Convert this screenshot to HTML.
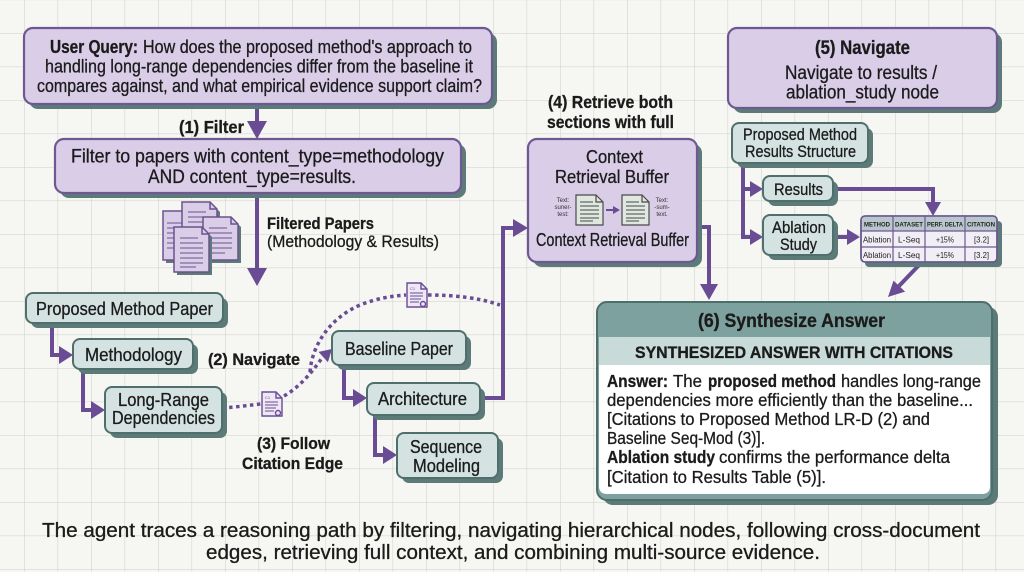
<!DOCTYPE html>
<html><head><meta charset="utf-8"><style>html,body{margin:0;padding:0;background:#f6f6f3;}svg{display:block;}</style></head>
<body>
<svg width="1024" height="572" viewBox="0 0 1024 572" xmlns="http://www.w3.org/2000/svg" font-family="'Liberation Sans', Arial, sans-serif" fill="#1b1b1b">
<defs>
<pattern id="g" width="33.5" height="33.5" patternUnits="userSpaceOnUse" x="24" y="33">
<path d="M0,0 H33.5 M0,0 V33.5" stroke="#d5d5d1" stroke-width="1.3" fill="none"/>
</pattern>
</defs>
<rect width="1024" height="572" fill="#f6f6f3"/>
<rect width="1024" height="572" fill="url(#g)"/>

<!-- ===== connectors (solid) ===== -->
<g stroke="#6a4c94" stroke-width="4" fill="none" stroke-linejoin="miter">
<path d="M257,104 V123"/>
<path d="M257,193 V270"/>
<path d="M52,323 V355 H61"/>
<path d="M83,369 V410 H93"/>
<path d="M344,365 V398 H355"/>
<path d="M375,415 V455 H385"/>
<path d="M480,398 H503 V228 H515"/>
<path d="M697,227 H709 V285"/>
<path d="M743,163 V237 H751"/>
<path d="M743,189 H751"/>
<path d="M833,189 H933 V203"/>
<path d="M833,237 H848"/>
<path d="M922,262 L899,286"/>
</g>
<g fill="#6a4c94">
<polygon points="247,121 267,121 257,139"/>
<polygon points="247,268 267,268 257,286"/>
<polygon points="59,346 59,364 73,355"/>
<polygon points="91,401 91,419 105,410"/>
<polygon points="353,389 353,407 367,398"/>
<polygon points="383,446 383,464 397,455"/>
<polygon points="513,219 513,237 528,228"/>
<polygon points="700,284 718,284 709,300"/>
<polygon points="750,181 750,197 763,189"/>
<polygon points="750,229 750,245 763,237"/>
<polygon points="925,202 941,202 933,216"/>
<polygon points="847,229 847,245 860,237"/>
<polygon points="905.1,291.6 893.5,280.6 888,297"/>
<polygon points="327.9,362.3 318.5,351.9 332,349"/>
</g>

<!-- ===== dotted citation edges ===== -->
<g stroke="#6a4c94" stroke-width="3.5" fill="none" stroke-dasharray="3.5 3.5">
<path d="M222,408 C238,407 250,405 261,404"/>
<path d="M284,396 C298,388 310,375 322,358"/>
<path d="M310,372 C312,345 330,318 360,305 C378,298 392,296 406,295"/>
<path d="M428,295 C455,295 480,298 500,305"/>
</g>

<!-- citation doc icons -->
<g stroke="#6a4c94" stroke-width="1.4">
<g transform="translate(262,392)">
<path d="M0,0 H14 L20,6 V24 H0 Z" fill="#eee8f4"/>
<path d="M14,0 V6 H20" fill="none"/>
<path d="M3,10 H16 M3,13 H16 M3,16 H14 M3,19 H12" fill="none" stroke-width="1"/>
<circle cx="16" cy="21" r="2.5" fill="#eee8f4"/>
</g>
<g transform="translate(407,283)">
<path d="M0,0 H14 L20,6 V24 H0 Z" fill="#eee8f4"/>
<path d="M14,0 V6 H20" fill="none"/>
<path d="M3,10 H16 M3,13 H16 M3,16 H14 M3,19 H12" fill="none" stroke-width="1"/>
<circle cx="16" cy="21" r="2.5" fill="#eee8f4"/>
</g>
</g>
<text x="265" y="399" font-size="4" stroke="none" fill="#6a4c94">C1</text>
<text x="410" y="290" font-size="4" stroke="none" fill="#6a4c94">C1</text>

<!-- ===== lavender boxes ===== -->
<g>
<rect x="29" y="33" width="468" height="76" rx="9" fill="#5c7b78"/>
<rect x="24" y="28" width="468" height="76" rx="9" fill="#d9cde7" stroke="#6e5892" stroke-width="2.2"/>
<rect x="60" y="144" width="406" height="54" rx="9" fill="#5c7b78"/>
<rect x="55" y="139" width="406" height="54" rx="9" fill="#d9cde7" stroke="#6e5892" stroke-width="2.2"/>
<rect x="533" y="144" width="169" height="123" rx="9" fill="#5c7b78"/>
<rect x="528" y="139" width="169" height="123" rx="9" fill="#d9cde7" stroke="#6e5892" stroke-width="2.2"/>
<rect x="733" y="33" width="269" height="80" rx="9" fill="#5c7b78"/>
<rect x="728" y="28" width="269" height="80" rx="9" fill="#d9cde7" stroke="#6e5892" stroke-width="2.2"/>
</g>

<!-- ===== teal nodes ===== -->
<g stroke="#4f6f6c" stroke-width="2">
<rect x="31" y="298" width="197" height="30" rx="7" fill="#5c7b78" stroke="none"/>
<rect x="26" y="293" width="197" height="30" rx="7" fill="#d4e3e1"/>
<rect x="78" y="344" width="120" height="30" rx="7" fill="#5c7b78" stroke="none"/>
<rect x="73" y="339" width="120" height="30" rx="7" fill="#d4e3e1"/>
<rect x="110" y="392" width="117" height="46" rx="7" fill="#5c7b78" stroke="none"/>
<rect x="105" y="387" width="117" height="46" rx="7" fill="#d4e3e1"/>
<rect x="337" y="336" width="134" height="34" rx="7" fill="#5c7b78" stroke="none"/>
<rect x="332" y="331" width="134" height="34" rx="7" fill="#d4e3e1"/>
<rect x="372" y="388" width="113" height="32" rx="7" fill="#5c7b78" stroke="none"/>
<rect x="367" y="383" width="113" height="32" rx="7" fill="#d4e3e1"/>
<rect x="402" y="438" width="101" height="45" rx="7" fill="#5c7b78" stroke="none"/>
<rect x="397" y="433" width="101" height="45" rx="7" fill="#d4e3e1"/>
<rect x="737" y="128" width="136" height="40" rx="7" fill="#5c7b78" stroke="none"/>
<rect x="732" y="123" width="136" height="40" rx="7" fill="#d4e3e1"/>
<rect x="768" y="181" width="70" height="25" rx="7" fill="#5c7b78" stroke="none"/>
<rect x="763" y="176" width="70" height="25" rx="7" fill="#d4e3e1"/>
<rect x="768" y="220" width="70" height="40" rx="7" fill="#5c7b78" stroke="none"/>
<rect x="763" y="215" width="70" height="40" rx="7" fill="#d4e3e1"/>
</g>

<!-- ===== table ===== -->
<rect x="865" y="221" width="137" height="46" rx="4" fill="#5c7b78"/>
<rect x="861" y="216" width="136" height="46" rx="4" fill="#f1eef5" stroke="#6b5a8e" stroke-width="1.6"/>
<path d="M862,217 H996 V231 H862 Z" fill="#b9c6cd"/>
<g stroke="#6b5a8e" stroke-width="1.2">
<path d="M861,231 H997 M861,247 H997 M893,216 V262 M925,216 V262 M965,216 V262"/>
</g>
<rect x="861" y="216" width="136" height="46" rx="4" fill="none" stroke="#6b5a8e" stroke-width="1.6"/>
<g font-size="6.5" font-weight="bold" fill="#222">
<text x="864" y="226.5" textLength="26" lengthAdjust="spacingAndGlyphs">METHOD</text>
<text x="895" y="226.5" textLength="28" lengthAdjust="spacingAndGlyphs">DATASET</text>
<text x="927" y="226.5" textLength="36" lengthAdjust="spacingAndGlyphs">PERF. DELTA</text>
<text x="967" y="226.5" textLength="28" lengthAdjust="spacingAndGlyphs">CITATION</text>
</g>
<g font-size="8.5" fill="#222">
<text x="863" y="242.5" textLength="28" lengthAdjust="spacingAndGlyphs">Ablation</text><text x="898" y="242.5" textLength="22" lengthAdjust="spacingAndGlyphs">L-Seq</text><text x="936" y="242.5" textLength="18" lengthAdjust="spacingAndGlyphs">+15%</text><text x="974" y="242.5" textLength="15" lengthAdjust="spacingAndGlyphs">[3.2]</text>
<text x="863" y="258" textLength="28" lengthAdjust="spacingAndGlyphs">Ablation</text><text x="898" y="258" textLength="22" lengthAdjust="spacingAndGlyphs">L-Seq</text><text x="936" y="258" textLength="18" lengthAdjust="spacingAndGlyphs">+15%</text><text x="974" y="258" textLength="15" lengthAdjust="spacingAndGlyphs">[3.2]</text>
</g>

<!-- ===== synthesize box ===== -->
<rect x="603" y="307" width="395" height="198" rx="10" fill="#5c7b78"/>
<rect x="597" y="302" width="395" height="198" rx="10" fill="#7ca19e" stroke="#4e6e6b" stroke-width="2"/>
<rect x="599" y="337" width="391" height="28" fill="#c8dbd9"/>
<path d="M599,365 H990 V486 Q990,494 982,494 H607 Q599,494 599,486 Z" fill="#ffffff"/>

<!-- ===== papers cluster ===== -->
<g stroke="#6b528e" stroke-width="1.5">
<g transform="translate(163,211)">
<path d="M3,3 H26 L32,9 V52 H3 Z" fill="#5c7b78" stroke="none"/>
<path d="M0,0 H23 L29,6 V49 H0 Z" fill="#d9cde8"/>
<path d="M4,12 H20 M4,17 H20 M4,22 H20 M4,27 H20 M4,32 H20 M4,37 H18" fill="none" stroke-width="0.9"/>
</g>
<g transform="translate(182,202)">
<path d="M3,3 H31 L38,10 V41 H3 Z" fill="#5c7b78" stroke="none"/>
<path d="M0,0 H28 L35,7 V38 H0 Z" fill="#d9cde8"/>
<path d="M28,0 V7 H35" fill="none"/>
<path d="M6,10 H24 M6,15 H28 M6,20 H28 M6,25 H28 M6,30 H22" fill="none" stroke-width="0.9"/>
</g>
<g transform="translate(203,217)">
<path d="M3,3 H31 L38,10 V46 H3 Z" fill="#5c7b78" stroke="none"/>
<path d="M0,0 H28 L35,7 V43 H0 Z" fill="#d9cde8"/>
<path d="M28,0 V7 H35" fill="none"/>
<path d="M6,11 H24 M6,16 H29 M6,21 H29 M6,26 H29 M6,31 H29 M6,36 H22" fill="none" stroke-width="0.9"/>
</g>
<g transform="translate(174,227)">
<path d="M3,3 H31 L38,10 V48 H3 Z" fill="#5c7b78" stroke="none"/>
<path d="M0,0 H28 L35,7 V45 H0 Z" fill="#d9cde8"/>
<path d="M28,0 V7 H35" fill="none"/>
<path d="M6,11 H24 M6,16 H29 M6,21 H29 M6,26 H29 M6,31 H29 M6,36 H29 M6,40 H22" fill="none" stroke-width="0.9"/>
</g>
</g>

<!-- ===== context buffer mini icons ===== -->
<g stroke="#4a4a4a" stroke-width="1.2">
<g transform="translate(576,195)">
<path d="M0,0 H20 L27,7 V30 H0 Z" fill="#dfe7e0"/>
<path d="M20,0 V7 H27" fill="none"/>
<path d="M4,7 H17 M4,11 H23 M4,15 H23 M4,19 H23 M4,23 H23 M4,26 H17" fill="none" stroke-width="0.9"/>
</g>
<g transform="translate(622,195)">
<path d="M0,0 H20 L27,7 V30 H0 Z" fill="#dfe7e0"/>
<path d="M20,0 V7 H27" fill="none"/>
<path d="M4,7 H17 M4,11 H23 M4,15 H23 M4,19 H23 M4,23 H23 M4,26 H17" fill="none" stroke-width="0.9"/>
</g>
</g>
<path d="M606,210 H614" stroke="#6a4c94" stroke-width="2"/>
<polygon points="613,206 613,214 620,210" fill="#6a4c94"/>
<g font-size="6" text-anchor="middle" fill="#333">
<text x="563" y="202">Text:</text><text x="563" y="209">suner-</text><text x="563" y="216">test:</text>
<text x="662" y="202">Text:</text><text x="662" y="209">-sum-</text><text x="662" y="216">text.</text>
</g>

<!-- ===== text ===== -->
<g stroke="#1b1b1b" stroke-width="0.3">
<!-- user query -->
<text x="50" y="53" font-size="18.5" font-weight="bold" textLength="88" lengthAdjust="spacingAndGlyphs">User Query:</text>
<text x="143" y="53" font-size="18.5" textLength="329" lengthAdjust="spacingAndGlyphs">How does the proposed method's approach to</text>
<text x="45" y="72.5" font-size="18.5" textLength="428" lengthAdjust="spacingAndGlyphs">handling long-range dependencies differ from the baseline it</text>
<text x="37" y="92" font-size="18.5" textLength="445" lengthAdjust="spacingAndGlyphs">compares against, and what empirical evidence support claim?</text>

<text x="179" y="133" font-size="17.5" font-weight="bold" textLength="65" lengthAdjust="spacingAndGlyphs">(1) Filter</text>

<text x="71" y="162.5" font-size="19" textLength="373" lengthAdjust="spacingAndGlyphs">Filter to papers with content_type=methodology</text>
<text x="148" y="183" font-size="19" textLength="208" lengthAdjust="spacingAndGlyphs">AND content_type=results.</text>

<text x="267" y="229" font-size="16.5" font-weight="bold" textLength="107" lengthAdjust="spacingAndGlyphs">Filtered Papers</text>
<text x="267" y="247" font-size="16.5" textLength="172" lengthAdjust="spacingAndGlyphs">(Methodology &amp; Results)</text>

<text x="36" y="315" font-size="18" textLength="177" lengthAdjust="spacingAndGlyphs">Proposed Method Paper</text>
<text x="85" y="361" font-size="18" textLength="97" lengthAdjust="spacingAndGlyphs">Methodology</text>
<text x="118" y="406" font-size="18" textLength="91" lengthAdjust="spacingAndGlyphs">Long-Range</text>
<text x="112" y="424" font-size="18" textLength="103" lengthAdjust="spacingAndGlyphs">Dependencies</text>

<text x="208" y="365" font-size="17" font-weight="bold" textLength="92" lengthAdjust="spacingAndGlyphs">(2) Navigate</text>
<text x="257" y="449" font-size="17" font-weight="bold" textLength="73" lengthAdjust="spacingAndGlyphs">(3) Follow</text>
<text x="242" y="469" font-size="17" font-weight="bold" textLength="101" lengthAdjust="spacingAndGlyphs">Citation Edge</text>

<text x="345" y="355" font-size="18" textLength="108" lengthAdjust="spacingAndGlyphs">Baseline Paper</text>
<text x="378" y="405" font-size="18" textLength="89" lengthAdjust="spacingAndGlyphs">Architecture</text>
<text x="410" y="453" font-size="18" textLength="72" lengthAdjust="spacingAndGlyphs">Sequence</text>
<text x="413" y="472" font-size="18" textLength="67" lengthAdjust="spacingAndGlyphs">Modeling</text>

<text x="548" y="108" font-size="17.5" font-weight="bold" textLength="125" lengthAdjust="spacingAndGlyphs">(4) Retrieve both</text>
<text x="547" y="128" font-size="17.5" font-weight="bold" textLength="127" lengthAdjust="spacingAndGlyphs">sections with full</text>

<text x="586" y="163" font-size="18.5" textLength="57" lengthAdjust="spacingAndGlyphs">Context</text>
<text x="555" y="183" font-size="18.5" textLength="114" lengthAdjust="spacingAndGlyphs">Retrieval Buffer</text>
<text x="536" y="246" font-size="18" textLength="153" lengthAdjust="spacingAndGlyphs">Context Retrieval Buffer</text>

<text x="815" y="54" font-size="19" font-weight="bold" textLength="95" lengthAdjust="spacingAndGlyphs">(5) Navigate</text>
<text x="785" y="79" font-size="19" textLength="152" lengthAdjust="spacingAndGlyphs">Navigate to results /</text>
<text x="786" y="98.5" font-size="19" textLength="153" lengthAdjust="spacingAndGlyphs">ablation_study node</text>

<text x="743" y="140" font-size="16.5" textLength="114" lengthAdjust="spacingAndGlyphs">Proposed Method</text>
<text x="745" y="157" font-size="16.5" textLength="111" lengthAdjust="spacingAndGlyphs">Results Structure</text>
<text x="774" y="195" font-size="17" textLength="49" lengthAdjust="spacingAndGlyphs">Results</text>
<text x="772" y="233" font-size="17" textLength="54" lengthAdjust="spacingAndGlyphs">Ablation</text>
<text x="780" y="250" font-size="17" textLength="37" lengthAdjust="spacingAndGlyphs">Study</text>

<text x="698" y="327" font-size="19.5" font-weight="bold" textLength="187" lengthAdjust="spacingAndGlyphs">(6) Synthesize Answer</text>
<text x="635" y="358" font-size="17" font-weight="bold" textLength="318" lengthAdjust="spacingAndGlyphs">SYNTHESIZED ANSWER WITH CITATIONS</text>

<text x="607" y="387" font-size="17.5" font-weight="bold" textLength="61" lengthAdjust="spacingAndGlyphs">Answer:</text>
<text x="673" y="387" font-size="17.5" textLength="29" lengthAdjust="spacingAndGlyphs">The</text>
<text x="708" y="387" font-size="17.5" font-weight="bold" textLength="128" lengthAdjust="spacingAndGlyphs">proposed method</text>
<text x="841" y="387" font-size="17.5" textLength="140" lengthAdjust="spacingAndGlyphs">handles long-range</text>
<text x="607" y="406" font-size="17.5" textLength="366" lengthAdjust="spacingAndGlyphs">dependencies more efficiently than the baseline...</text>
<text x="607" y="425" font-size="17.5" textLength="323" lengthAdjust="spacingAndGlyphs">[Citations to Proposed Method LR-D (2) and</text>
<text x="607" y="444" font-size="17.5" textLength="158" lengthAdjust="spacingAndGlyphs">Baseline Seq-Mod (3)].</text>
<text x="607" y="463" font-size="17.5" font-weight="bold" textLength="108" lengthAdjust="spacingAndGlyphs">Ablation study</text>
<text x="719" y="463" font-size="17.5" textLength="231" lengthAdjust="spacingAndGlyphs">confirms the performance delta</text>
<text x="607" y="483" font-size="17.5" textLength="219" lengthAdjust="spacingAndGlyphs">[Citation to Results Table (5)].</text>

<text x="42" y="537" font-size="20" textLength="938" lengthAdjust="spacingAndGlyphs">The agent traces a reasoning path by filtering, navigating hierarchical nodes, following cross-document</text>
<text x="206" y="559" font-size="20" textLength="614" lengthAdjust="spacingAndGlyphs">edges, retrieving full context, and combining multi-source evidence.</text>
</g>
</svg>
</body></html>
